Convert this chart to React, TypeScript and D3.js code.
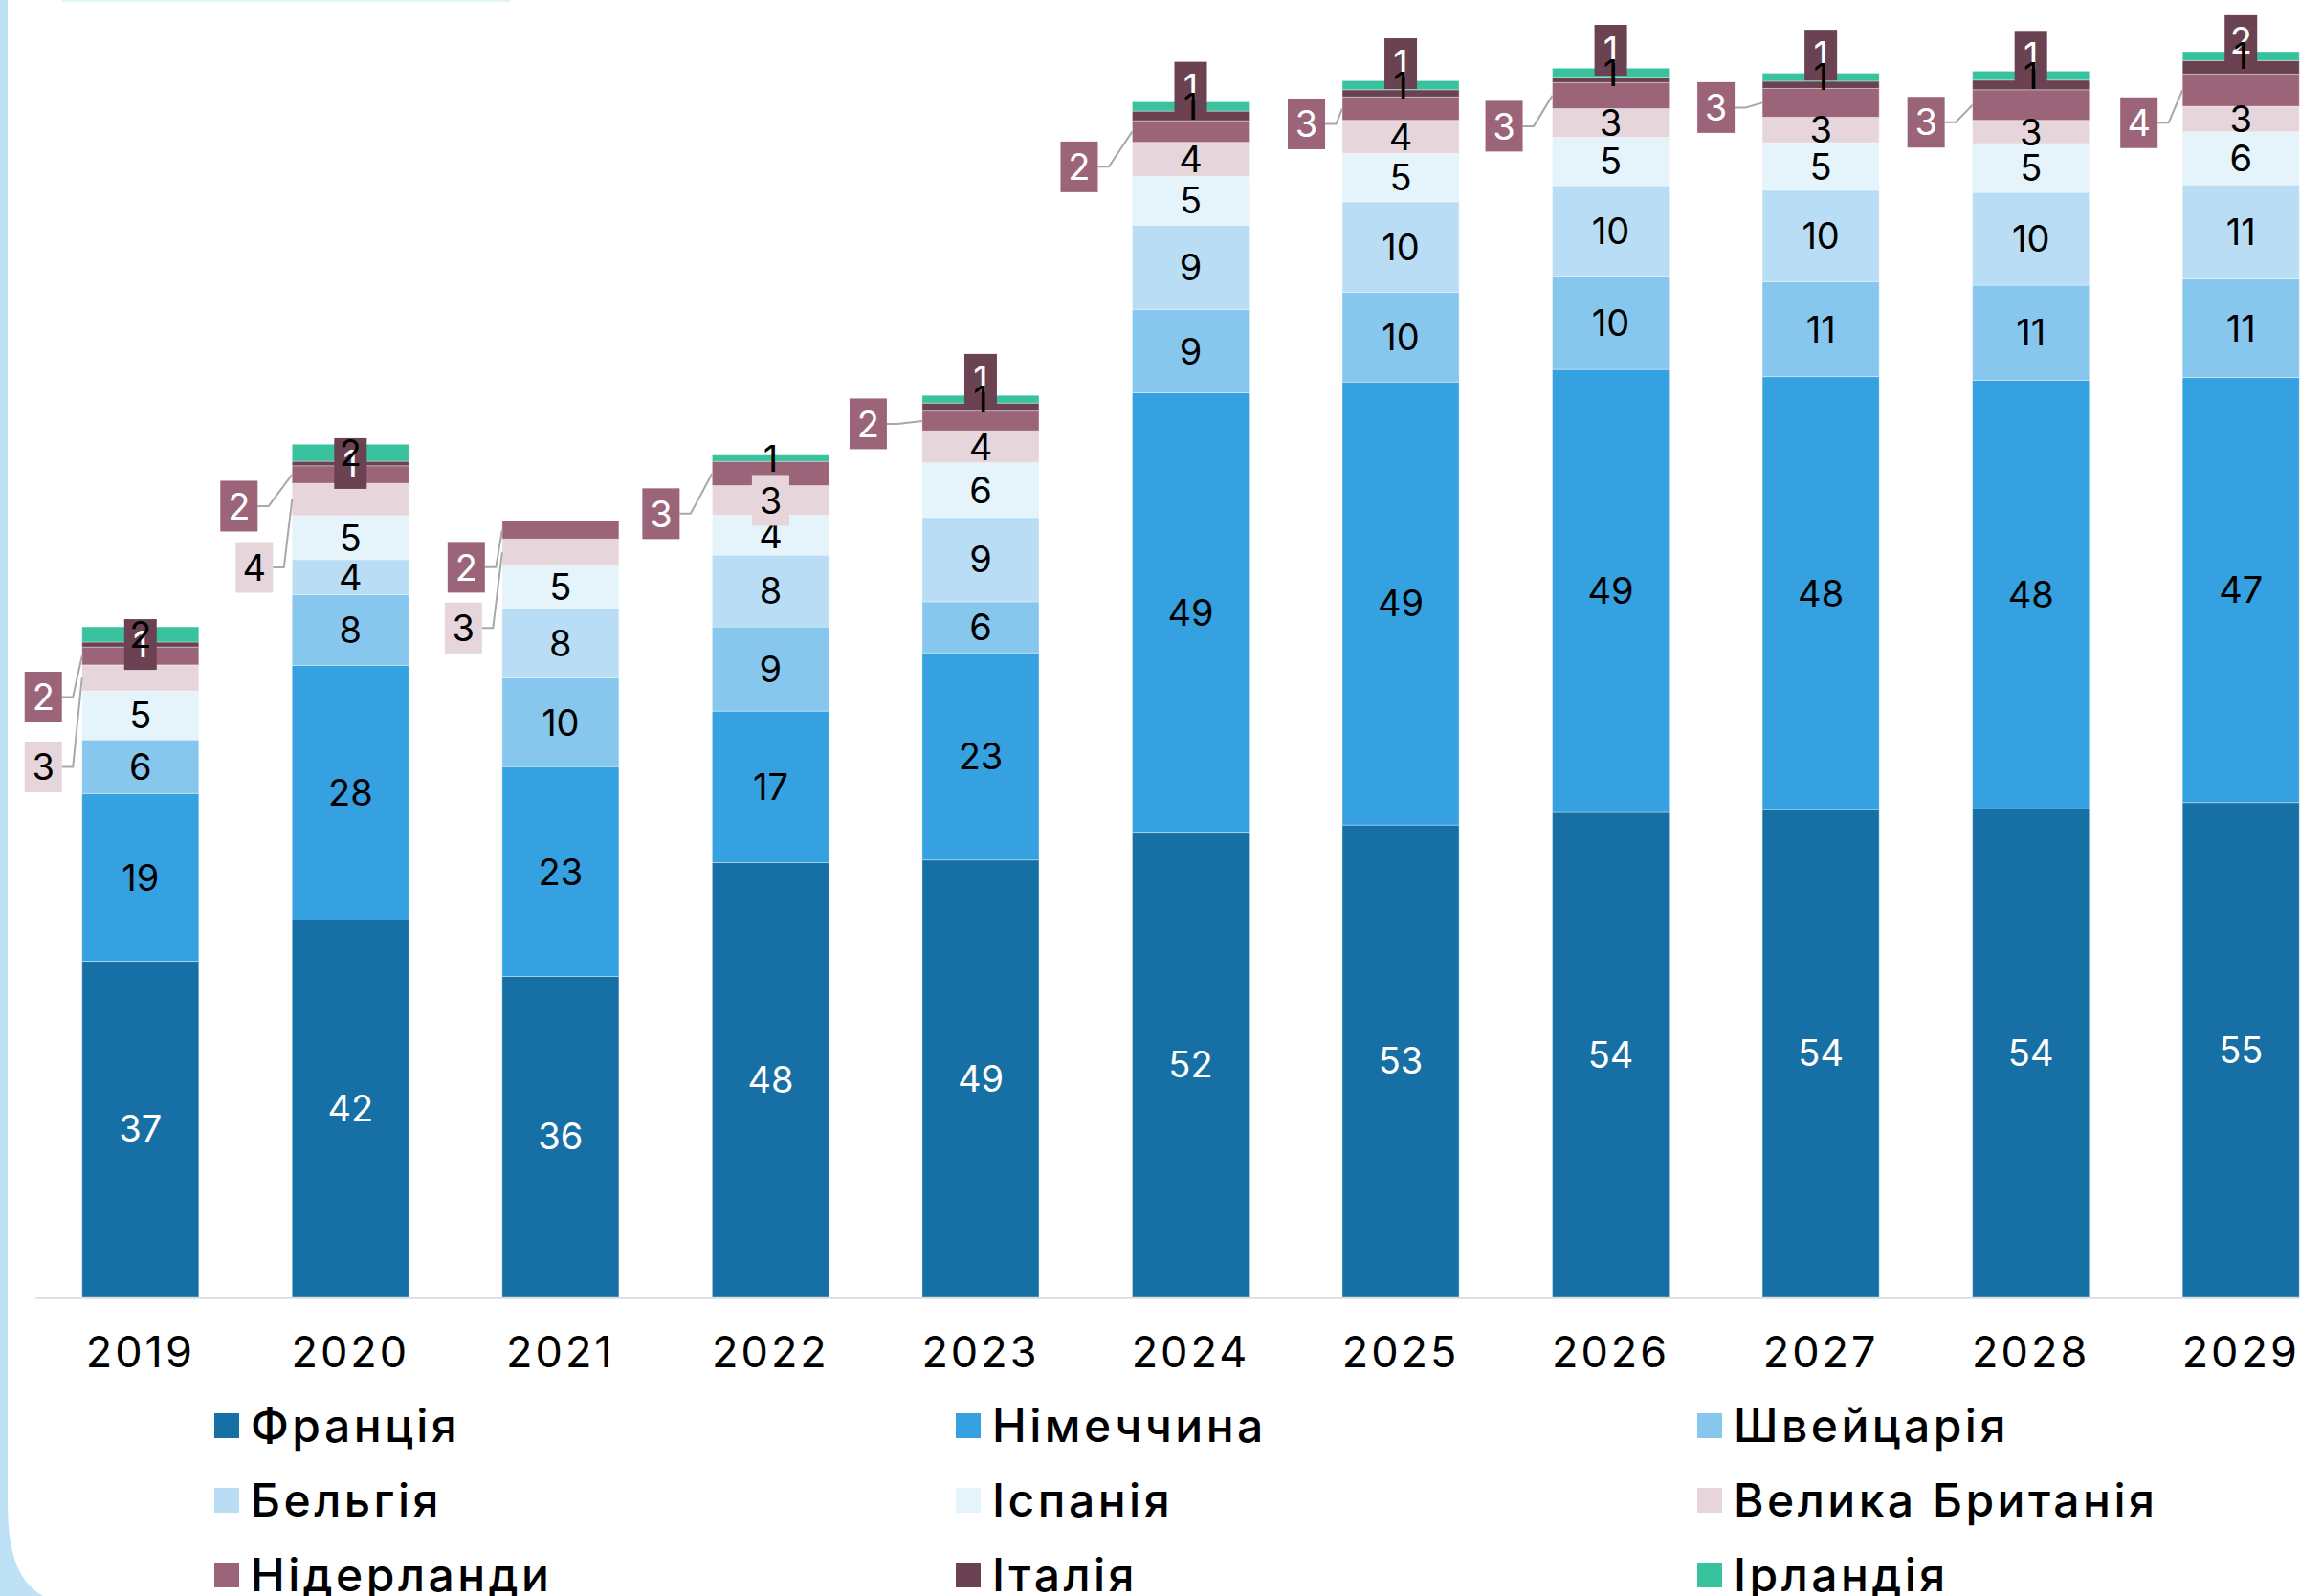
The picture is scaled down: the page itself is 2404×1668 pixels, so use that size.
import React, { useEffect, useRef } from 'react';
import * as d3 from 'd3';

const years = ['2019', '2020', '2021', '2022', '2023', '2024', '2025', '2026', '2027', '2028', '2029'];

const countries = ['Франція', 'Німеччина', 'Швейцарія', 'Бельгія', 'Іспанія',
    'Велика Британія', 'Нідерланди', 'Італія', 'Ірландія'];

const colors = ['#1770a5', '#35a1e1', '#87c7ee', '#b8ddf4', '#e5f3fb',
    '#e6d6dc', '#9b6478', '#6a4252', '#38c29e'];

// values (labels show the rounded figures)
const france = [37.4, 42.0, 35.7, 48.4, 48.7, 51.7, 52.6, 54.0, 54.3, 54.4, 55.1];
const germany = [18.7, 28.4, 23.4, 16.9, 23.1, 49.1, 49.4, 49.4, 48.3, 47.8, 47.4];
const switzerland = [6.0, 7.9, 9.9, 9.4, 5.7, 9.3, 10.0, 10.4, 10.6, 10.6, 11.0];
const belgium = [0, 3.9, 7.8, 8.0, 9.4, 9.4, 10.1, 10.1, 10.2, 10.35, 10.5];
const spain = [5.45, 4.9, 4.7, 4.45, 6.1, 5.45, 5.4, 5.4, 5.3, 5.45, 5.9];
const uk = [2.9, 3.6, 3.0, 3.3, 3.56, 3.8, 3.7, 3.2, 2.85, 2.6, 2.85];
const netherlands = [2.0, 1.96, 2.0, 2.7, 2.2, 2.4, 2.6, 2.9, 3.2, 3.4, 3.6];
const italy = [0.55, 0.5, 0, 0, 0.9, 1.07, 0.8, 0.6, 0.8, 1.07, 1.5];
const ireland = [1.7, 1.9, 0, 0.7, 0.85, 1.03, 1.0, 1.0, 0.9, 1.0, 1.0];

const seriesValues = [france, germany, switzerland, belgium, spain, uk, netherlands, italy, ireland];

// hand placed label nudges (px), like the original's dragged labels
const nlNudge = [[43, 21], [33, 36], [39, 18], [42, 34], [3, 37], [37, 36], [16, 18], [32, 31], [5, 29], [18, 29], [34, 26]];
const ukNudge = [[93, 21], [71, 20], [79, 21]];
const ukMode = ['callout', 'callout', 'callout', 'boxed', 'inside', 'inside', 'inside', 'inside', 'inside', 'inside', 'inside'];
const italyNudge = [0, 0, 0, 0, -29, -30, -31, -31, -31, -30, -28];

export default function App() {

    const svgRef = useRef(null);

    const width = 2404;
    const height = 1668;
    const baseline = 1356;
    const font = 'Inter, "Noto Sans", sans-serif';

    useEffect(() => {
        const svg = d3.select(svgRef.current);
        svg.selectAll('*').remove();

        // card frame
        svg.append('rect').attr('width', width).attr('height', height).attr('fill', '#bfe1f6');
        svg.append('path')
            .attr('d', `M8,0 L8,1570 C8,1630 22,1655 45,${height} L${width},${height} L${width},0 Z`)
            .attr('fill', '#fff');
        svg.append('rect').attr('x', 64).attr('y', 0).attr('width', 469).attr('height', 2).attr('fill', '#e3f5f1');

        const x = d3.scaleBand()
            .domain(years)
            .range([37, 2452])
            .paddingInner(0.444)
            .paddingOuter(0.222);

        const y = d3.scaleLinear()
            .domain([0, 140])
            .range([baseline - 1, baseline - 1 - 140 * 9.37]);

        const table = years.map((yr, i) => {
            const row = { year: yr };
            countries.forEach((c, j) => { row[c] = seriesValues[j][i]; });
            return row;
        });

        const stacked = d3.stack().keys(countries)(table);
        const color = d3.scaleOrdinal().domain(countries).range(colors);

        const g = svg.append('g');

        // bars
        g.append('g')
            .selectAll('g')
            .data(stacked)
            .enter()
            .append('g')
            .attr('fill', d => color(d.key))
            .selectAll('rect')
            .data(d => d.filter(p => p[1] - p[0] > 0))
            .enter()
            .append('rect')
            .attr('x', d => x(d.data.year))
            .attr('y', d => y(d[1]))
            .attr('width', x.bandwidth())
            .attr('height', d => y(d[0]) - y(d[1]))
            .attr('stroke', '#fff')
            .attr('stroke-opacity', 0.35)
            .attr('stroke-width', 1);

        // x axis
        const xAxisG = g.append('g')
            .attr('transform', `translate(0, ${baseline})`)
            .call(d3.axisBottom(x).tickSize(0).tickPadding(41));
        xAxisG.select('.domain').attr('stroke', '#dcdcdc').attr('stroke-width', 2.5);
        xAxisG.selectAll('text')
            .attr('fill', '#000')
            .style('font-family', font)
            .style('font-size', '45px')
            .style('letter-spacing', '3px');

        const mid = (layer, i) => {
            const p = stacked[layer][i];
            return (y(p[0]) + y(p[1])) / 2;
        };

        const labelText = (sel, fill) => sel
            .attr('text-anchor', 'middle')
            .attr('dy', '0.36em')
            .attr('fill', fill)
            .style('font-family', font)
            .style('font-size', '38px');

        const boxW = 39;
        const boxH = 53;

        // callout with leader line
        const callout = (layer, i, dy, gap, textFill) => {
            const cy = mid(layer, i);
            const left = x(years[i]);
            const by = cy + dy;
            const right = left - gap;
            g.append('path')
                .attr('d', `M${right},${by} L${right + 11.5},${by} L${left},${cy}`)
                .attr('fill', 'none')
                .attr('stroke', '#a8a8a8')
                .attr('stroke-width', 2);
            g.append('rect')
                .attr('x', right - boxW)
                .attr('y', by - boxH / 2)
                .attr('width', boxW)
                .attr('height', boxH)
                .attr('fill', colors[layer]);
            g.append('text')
                .attr('x', right - boxW / 2)
                .attr('y', by)
                .text(Math.round(seriesValues[layer][i]))
                .call(labelText, textFill);
        };

        years.forEach((yr, i) => {
            const cx = x(yr) + x.bandwidth() / 2;

            // inside labels France..Spain
            for (let layer = 0; layer < 5; layer++) {
                if (seriesValues[layer][i] <= 0) continue;
                g.append('text')
                    .attr('x', cx)
                    .attr('y', mid(layer, i))
                    .text(Math.round(seriesValues[layer][i]))
                    .call(labelText, layer === 0 ? '#fff' : '#000');
            }

            // UK
            if (ukMode[i] === 'callout') {
                callout(5, i, ukNudge[i][0], ukNudge[i][1], '#000');
            } else {
                if (ukMode[i] === 'boxed') {
                    g.append('rect')
                        .attr('x', cx - boxW / 2)
                        .attr('y', mid(5, i) - boxH / 2)
                        .attr('width', boxW)
                        .attr('height', boxH)
                        .attr('fill', colors[5]);
                }
                g.append('text')
                    .attr('x', cx)
                    .attr('y', mid(5, i))
                    .text(Math.round(uk[i]))
                    .call(labelText, '#000');
            }

            // Netherlands
            callout(6, i, nlNudge[i][0], nlNudge[i][1], '#fff');

            // Italy
            if (italy[i] > 0) {
                const iy = mid(7, i) + italyNudge[i];
                g.append('rect')
                    .attr('x', cx - 17)
                    .attr('y', iy - boxH / 2)
                    .attr('width', 34)
                    .attr('height', boxH)
                    .attr('fill', colors[7]);
                g.append('text')
                    .attr('x', cx)
                    .attr('y', iy)
                    .text(Math.round(italy[i]))
                    .call(labelText, '#fff');
            }
        });

        // Ireland labels on top
        years.forEach((yr, i) => {
            if (ireland[i] <= 0) return;
            g.append('text')
                .attr('x', x(yr) + x.bandwidth() / 2)
                .attr('y', mid(8, i))
                .text(Math.round(ireland[i]))
                .call(labelText, '#000');
        });

        // legend
        const legend = g.append('g')
            .selectAll('g')
            .data(countries)
            .enter()
            .append('g')
            .attr('transform', (d, i) => `translate(${224 + (i % 3) * 775}, ${1477 + Math.floor(i / 3) * 78})`);

        legend.append('rect')
            .attr('width', 26)
            .attr('height', 26)
            .attr('fill', d => color(d));

        legend.append('text')
            .attr('x', 38)
            .attr('y', 30)
            .text(d => d)
            .attr('fill', '#000')
            .style('font-family', font)
            .style('font-size', '48px')
            .style('font-weight', 500)
            .style('letter-spacing', '3.5px');

    }, []);

    return (
        <div style={{ position: 'absolute', left: 0, top: 0 }}>
            <svg ref={svgRef} width={width} height={height} style={{ display: 'block' }}></svg>
        </div>
    );
}
